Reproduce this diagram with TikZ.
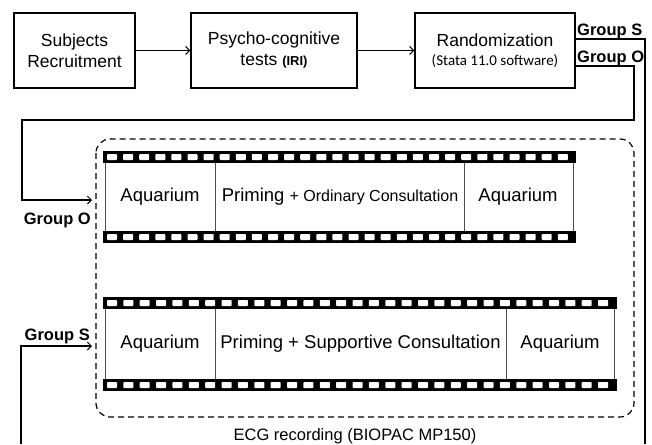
\documentclass[tikz,border=0pt]{standalone}
\usepackage{fontspec}
\setmainfont{Liberation Sans}
\newfontfamily\calibrifont{Carlito}
\usetikzlibrary{arrows.meta}

\begin{document}
\begin{tikzpicture}[x=1pt,y=-1pt,
  stepbox/.style={draw, line width=1.3pt, minimum height=75pt, align=center,
    inner sep=2pt, font=\fontsize{17.5}{21}\selectfont},
  link/.style={line width=1.1pt},
  conn/.style={link, -{Straight Barb[length=4pt,width=8pt,line width=1pt]}},
  grp/.style={font=\fontsize{16.5}{18}\bfseries\selectfont, inner sep=0pt},
  band/.style={fill=black},
  hole/.style={fill=white, rounded corners=0.8pt},
  frame/.style={draw=black!70, line width=0.9pt},
  seg/.style={font=\fontsize{18.5}{20}\selectfont, inner sep=0pt},
]
\useasboundingbox (0,0) rectangle (652,444);

% flow of the study
\node[stepbox, minimum width=121pt] (b1) at (74.5,50.5) {Subjects\\Recruitment};
\node[stepbox, minimum width=166pt] (b2) at (274,50.5) {Psycho-cognitive\\tests {\fontsize{13}{15}\bfseries\selectfont (IRI)}};
\node[stepbox, minimum width=160pt] (b3) at (495,50.5) {Randomization\\[-2pt]{\calibrifont\fontsize{15}{17}\selectfont (Stata 11.0 software)}};

\draw[conn] (b1) -- (b2);
\draw[conn] (b2) -- (b3);

% ECG recording frame
\draw[dash pattern=on 6pt off 4pt, line width=1.2pt, rounded corners=14pt]
  (96,139) rectangle (634,417);
\node[font=\fontsize{16.5}{18}\selectfont, anchor=base, inner sep=0pt] (ecg) at (355,440)
  {ECG recording (BIOPAC MP150)};

% film strip, ordinary consultation
\fill[band] (103,151) rectangle (576,163);
\fill[band] (103,231) rectangle (576,243);
\foreach \i in {0,...,28} {
  \fill[hole] ({107+\i*16.1},154) rectangle +(10,6);
  \fill[hole] ({107+\i*16.1},234) rectangle +(10,6);
}
\foreach \x in {105,215,464,573} \draw[frame] (\x,163) -- (\x,231);
\node[seg] (o1) at (160,197) {Aquarium};
\node[seg] (o2) at (340,197) {Priming {\fontsize{16}{18}\selectfont + Ordinary Consultation}};
\node[seg] (o3) at (518,197) {Aquarium};

% film strip, supportive consultation
\fill[band] (103,297) rectangle (617,309);
\fill[band] (103,379) rectangle (617,391);
\foreach \i in {0,...,30} {
  \fill[hole] ({107+\i*16.37},300) rectangle +(10,6);
  \fill[hole] ({107+\i*16.37},382) rectangle +(10,6);
}
\foreach \x in {105,215,506,614} \draw[frame] (\x,309) -- (\x,379);
\node[seg] (s1) at (160,344) {Aquarium};
\node[seg] (s2) at (360.5,344) {Priming + Supportive Consultation};
\node[seg] (s3) at (560,344) {Aquarium};

% group routes
\coordinate (sdown) at (645,444);
\coordinate (oturn) at (634,120);
\coordinate (oleft) at (22,120);
\coordinate (oin) at (92,200);
\coordinate (sbot) at (21,444);
\coordinate (sin) at (92,346);

\draw[link] ([yshift=11.5pt]b3.east) -| (sdown);
\draw[conn] ([yshift=-15.5pt]b3.east) -| (oturn) -- (oleft) |- (oin);
\draw[conn] (sbot) |- (sin);

\node[grp, anchor=base west] (gs) at (577,36) {Group S};
\node[grp, anchor=base west] (go) at (577,63) {Group O};
\node[grp, anchor=base east] (go2) at (91,224) {Group O};
\node[grp, anchor=base east] (gs2) at (90,340) {Group S};
\end{tikzpicture}
\end{document}
